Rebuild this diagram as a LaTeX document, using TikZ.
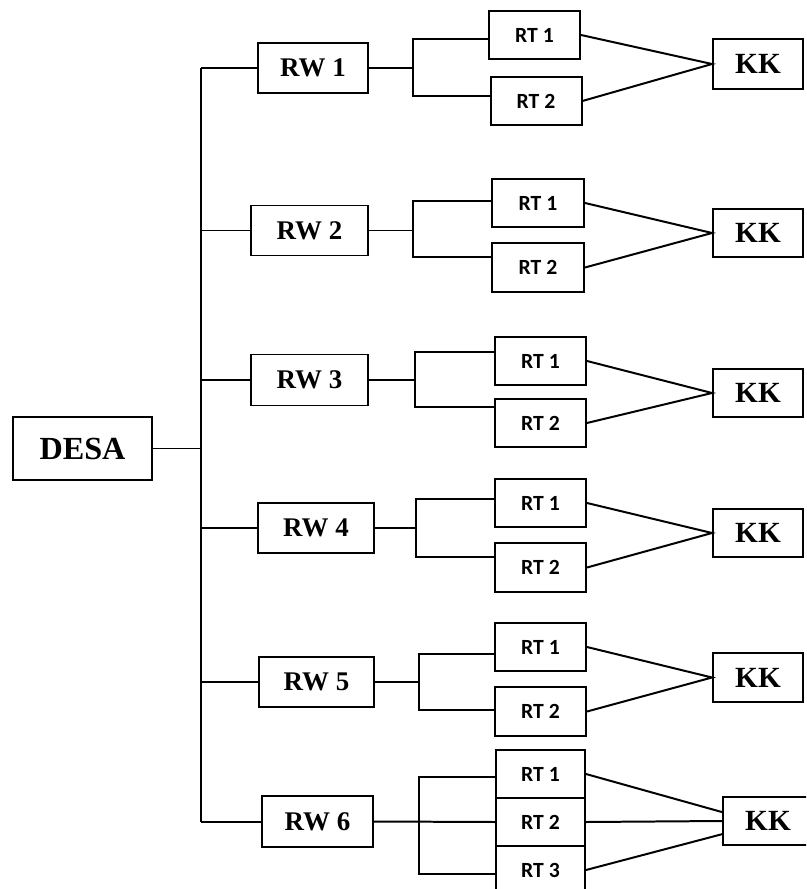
\documentclass[tikz,border=0pt]{standalone}
\usepackage{fontspec}
\setmainfont{Liberation Serif}
\newfontfamily\calfont{Carlito}
\tikzset{
  box/.style={draw,inner sep=0pt,line width=1.7pt},
  sz/.style n args={2}{minimum width={(#1)*0.3mm},minimum height={(#2)*0.3mm}},
  desab/.style={box,font=\fontsize{27.5}{29}\selectfont\bfseries},
  rwb/.style={box,font=\fontsize{23}{25}\selectfont\bfseries},
  rtb/.style={box,font=\fontsize{18.5}{20}\selectfont\calfont\bfseries},
  kkb/.style={box,font=\fontsize{25}{27}\selectfont\bfseries}
}
\begin{document}
\begin{tikzpicture}[x=0.3mm,y=-0.3mm,line width=1.7pt]
\useasboundingbox (0,0) rectangle (806,889);
\clip (0,0) rectangle (806,889);
% main nodes
\node[desab,sz={139}{63}] (desa) at (82.5,448.5) {DESA};
\node[rwb,sz={110}{50}] (rw1) at (313,68) {RW 1};
\node[rwb,sz={117}{50}] (rw2) at (309.5,230.5) {RW 2};
\node[rwb,sz={117}{51}] (rw3) at (309.5,380) {RW 3};
\node[rwb,sz={116}{50}] (rw4) at (316,528) {RW 4};
\node[rwb,sz={115}{50}] (rw5) at (316.5,682) {RW 5};
\node[rwb,sz={111}{51}] (rw6) at (317.5,821.5) {RW 6};
% RT nodes
\node[rtb,sz={91}{48}] (rt11) at (534.5,35) {RT 1};
\node[rtb,sz={91}{48}] (rt12) at (536,101) {RT 2};
\node[rtb,sz={92}{48}] (rt21) at (538,203) {RT 1};
\node[rtb,sz={92}{49}] (rt22) at (538,267.5) {RT 2};
\node[rtb,sz={91}{48}] (rt31) at (540.5,361) {RT 1};
\node[rtb,sz={91}{48}] (rt32) at (540.5,423) {RT 2};
\node[rtb,sz={91}{48}] (rt41) at (540.5,503) {RT 1};
\node[rtb,sz={91}{49}] (rt42) at (540.5,567.5) {RT 2};
\node[rtb,sz={91}{48}] (rt51) at (540.5,647) {RT 1};
\node[rtb,sz={91}{49}] (rt52) at (540.5,711.5) {RT 2};
\node[rtb,sz={89}{48}] (rt61) at (540.5,774) {RT 1};
\node[rtb,sz={89}{48}] (rt62) at (540.5,822) {RT 2};
\node[rtb,sz={89}{48}] (rt63) at (540.5,870) {RT 3};
% KK nodes
\node[kkb,sz={90}{50}] (kk1) at (758,64) {KK};
\node[kkb,sz={90}{48}] (kk2) at (758,233) {KK};
\node[kkb,sz={90}{48}] (kk3) at (758,393) {KK};
\node[kkb,sz={90}{48}] (kk4) at (758,533) {KK};
\node[kkb,sz={90}{49}] (kk5) at (758,677.5) {KK};
\node[kkb,sz={90}{48}] (kk6) at (768,821) {KK};
% trunk
\coordinate (tx) at (201,0);
\draw (rw1.west -| tx) -- (rw6.west -| tx);
\draw (desa.east) -- (desa.east -| tx);
\foreach \r in {rw1,rw2,rw3,rw4,rw5,rw6} {\draw (\r.west) -- (\r.west -| tx);}
% brackets
\coordinate (g1t) at (413,39);  \coordinate (g1b) at (413,96);
\coordinate (g2t) at (413,201); \coordinate (g2b) at (413,257);
\coordinate (g3t) at (415,352); \coordinate (g3b) at (415,407);
\coordinate (g4t) at (416,499); \coordinate (g4b) at (416,557);
\coordinate (g5t) at (419,654); \coordinate (g5b) at (419,710);
\coordinate (g6t) at (419,777); \coordinate (g6b) at (419,874);
\draw (rw1.east) -- (rw1.east -| g1t);
\draw (rw2.east) -- (rw2.east -| g2t);
\draw (rw3.east) -- (rw3.east -| g3t);
\draw (rw4.east) -- (rw4.east -| g4t);
\draw (rw5.east) -- (rw5.east -| g5t);
\draw (rw6.east) -- (rt62.west);
\draw (g1t -| rt11.west) -- (g1t) -- (g1b) -- (g1b -| rt12.west);
\draw (g2t -| rt21.west) -- (g2t) -- (g2b) -- (g2b -| rt22.west);
\draw (g3t -| rt31.west) -- (g3t) -- (g3b) -- (g3b -| rt32.west);
\draw (g4t -| rt41.west) -- (g4t) -- (g4b) -- (g4b -| rt42.west);
\draw (g5t -| rt51.west) -- (g5t) -- (g5b) -- (g5b -| rt52.west);
\draw (g6t -| rt61.west) -- (g6t) -- (g6b) -- (g6b -| rt63.west);
% RT to KK
\draw (rt11.east) -- (kk1.west) -- (rt12.east);
\draw (rt21.east) -- (kk2.west) -- (rt22.east);
\draw (rt31.east) -- (kk3.west) -- (rt32.east);
\draw (rt41.east) -- (kk4.west) -- (rt42.east);
\draw (rt51.east) -- (kk5.west) -- (rt52.east);
\draw (rt61.east) -- (kk6.169);
\draw (rt62.east) -- (kk6.west);
\draw (rt63.east) -- (kk6.196);
\end{tikzpicture}
\end{document}
